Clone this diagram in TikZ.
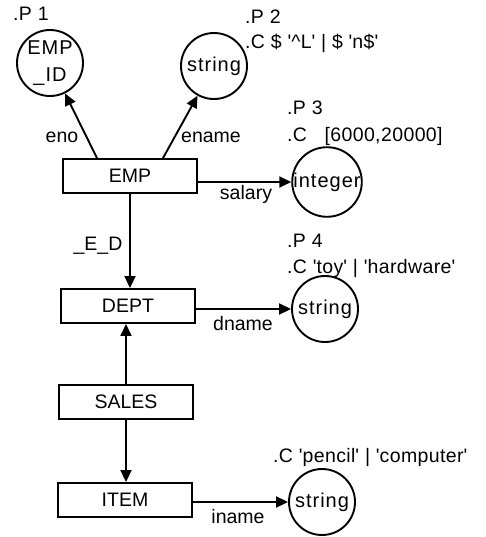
\documentclass[tikz,border=0pt]{standalone}
\usepackage{fontspec}
\setmainfont{Liberation Sans}
\usetikzlibrary{arrows.meta}
\newcommand\qt{\textquotesingle}
\begin{document}
\begin{tikzpicture}[x=1pt,y=-1pt,
  every node/.style={font=\fontsize{19.5}{21}\selectfont},
  ent/.style={draw,line width=1.9pt,minimum width=134pt,minimum height=34pt,inner sep=0pt},
  val/.style={draw,circle,line width=1.9pt,minimum size=66pt,inner sep=0pt,
    font=\fontsize{20}{27}\selectfont\addfontfeature{LetterSpace=5}},
  arr/.style={line width=1.9pt,-{Triangle[length=12pt,width=11pt]}},
  lab/.style={anchor=base,inner sep=0pt},
  note/.style={anchor=base west,inner sep=0pt,font=\fontsize{19.5}{21}\selectfont\addfontfeature{LetterSpace=2}}]
\useasboundingbox (0,0) rectangle (486,537);
% entities
\node[ent] (emp) at (130,176) {EMP};
\node[ent] (dept) at (128,306) {DEPT};
\node[ent] (sales) at (126,402) {SALES};
\node[ent] (item) at (125,500) {ITEM};
% value circles
\node[val,align=center] (p1) at (50,63) {EMP\\\_ID};
\node[val] (s1) at (214,66) {string};
\node[val] (int) at (327,182) {integer};
\node[val] (s2) at (325,309) {string};
\node[val] (s3) at (322,502) {string};
% connectors
\draw[arr] ([xshift=-33pt]emp.north) -- (p1);
\draw[arr] ([xshift=33pt]emp.north) -- (s1);
\draw[arr] (emp.east |- int.west) -- (int.west);
\draw[arr] (emp.south) -- (emp.south |- dept.north);
\draw[arr] (dept.east |- s2.west) -- (s2.west);
\draw[arr] (sales.north) -- (sales.north |- dept.south);
\draw[arr] (sales.south) -- (sales.south |- item.north);
\draw[arr] (item.east |- s3.west) -- (s3.west);
% connector labels
\node[lab] (leno) at (62,143) {eno};
\node[lab] (lename) at (211,143) {ename};
\node[lab] (lsal) at (246,200) {salary};
\node[lab] (led) at (98,250) {\_E\_D};
\node[lab] (ldn) at (243,330) {dname};
\node[lab] (lin) at (238,523) {iname};
% annotations
\node[note] (n1) at (13,21) {.P 1};
\node[note] (n2) at (245,24) {.P 2};
\node[note] (n3) at (245,49) {.C \$ \qt\textasciicircum L\qt\ | \$ \qt n\$\qt};
\node[note] (n4) at (287,115) {.P 3};
\node[note] (n5) at (287,142) {.C\ \ \ [6000,20000]};
\node[note] (n6) at (287,247) {.P 4};
\node[note] (n7) at (287,273) {.C \qt toy\qt\ | \qt hardware\qt};
\node[note] (n8) at (273,462) {.C \qt pencil\qt\ | \qt computer\qt};
\end{tikzpicture}
\end{document}
